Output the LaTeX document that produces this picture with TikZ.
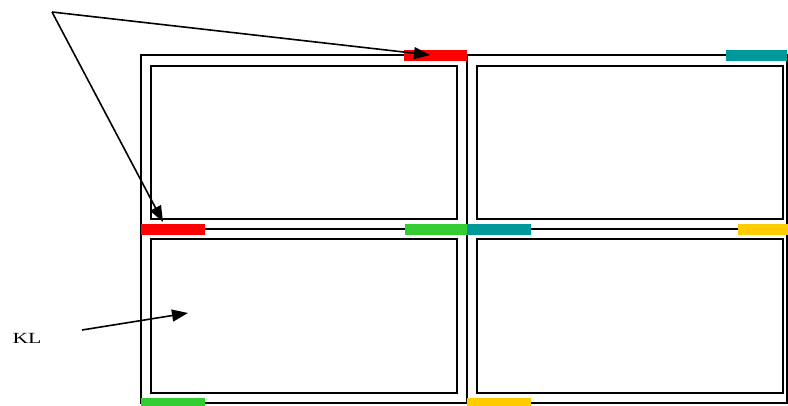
\documentclass[tikz,border=0pt]{standalone}
\usepackage{fontspec}
\setmainfont{Liberation Serif}
\usetikzlibrary{arrows.meta}
\definecolor{cred}{HTML}{FF0000}
\definecolor{cgreen}{HTML}{33CC33}
\definecolor{cteal}{HTML}{009999}
\definecolor{cyellow}{HTML}{FFCC00}
\begin{document}
\begin{tikzpicture}[x=1pt,y=-1pt,
  frame/.style={draw=black,line width=1.6pt},
  cell/.style={draw=black,line width=1.6pt},
  bar/.style={line width=11pt},
  pointer/.style={draw=black,line width=1.6pt,-{Triangle[length=16pt,width=12pt]}},
  lbl/.style={font=\fontsize{15.5}{17}\selectfont,inner sep=0pt}]
\useasboundingbox (0,0) rectangle (788,405);
\clip (0,0) rectangle (788,405);
% outer frame
\draw[frame] (141,55) rectangle (787,403);
\draw[frame] (467,55) -- (467,403);
\draw[frame] (141,229) -- (787,229);
% inner cells
\draw[cell] (151,66) rectangle (457,219);
\draw[cell] (477,66) rectangle (783,219);
\draw[cell] (151,239) rectangle (457,393);
\draw[cell] (477,239) rectangle (783,393);
% coloured bars
\draw[bar,cred] (404,55) -- (467,55);
\draw[bar,cteal] (726,55) -- (787,55);
\draw[bar,cred] (141,229) -- (205,229);
\draw[bar,cgreen] (405,229) -- (467,229);
\draw[bar,cteal] (467,229) -- (531,229);
\draw[bar,cyellow] (738,229) -- (790,229);
\draw[bar,cgreen] (141,403) -- (205,403);
\draw[bar,cyellow] (467,403) -- (531,403);
% pointers
\coordinate (apex) at (52,12);
\coordinate (redtoptip) at (430,55);
\coordinate (redmidtip) at (163,222);
\coordinate (cellpt) at (188,313);
\node[lbl] (kl) at (27,338) {\scalebox{1.4}[1]{KL}};
\coordinate (klstart) at (82,330);
\draw[pointer] (apex) -- (redtoptip);
\draw[pointer] (apex) -- (redmidtip);
\draw[pointer] (klstart) -- (cellpt);
\end{tikzpicture}
\end{document}
